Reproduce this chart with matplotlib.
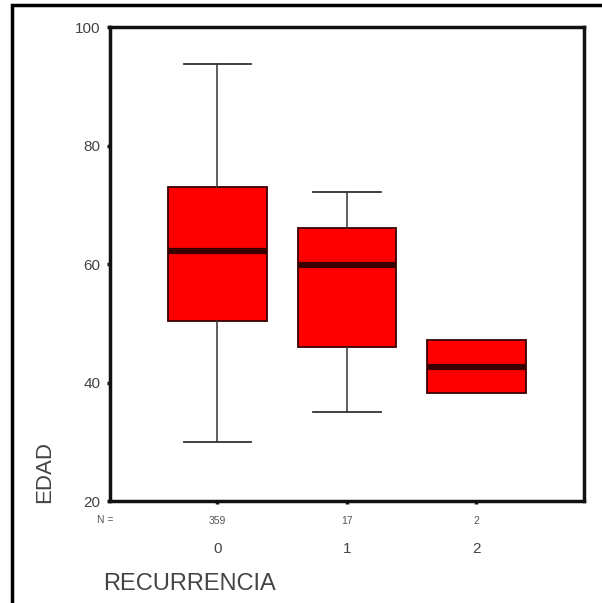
import matplotlib.pyplot as plt
from matplotlib.patches import Rectangle

plt.rcParams['font.family'] = ['Liberation Sans', 'DejaVu Sans']

# values
groups = ['0', '1', '2']
counts = ['359', '17', '2']
whislo = [30.0, 35.0, 38.2]
q1 = [50.4, 46.0, 38.2]
med = [62.2, 59.8, 42.6]
q3 = [73.0, 66.1, 47.2]
whishi = [93.8, 72.2, 47.2]

stats = []
for i, g in enumerate(groups):
    stats.append({'label': g, 'whislo': whislo[i], 'q1': q1[i], 'med': med[i],
                  'q3': q3[i], 'whishi': whishi[i], 'fliers': []})

fig = plt.figure(figsize=(6.02, 6.03), dpi=100)
ax = fig.add_axes([0.1827, 0.169, 0.7873, 0.786])

pos = list(range(len(groups)))
bp = ax.bxp(stats, positions=pos, widths=0.76, capwidths=0.52, patch_artist=True,
            showfliers=False,
            boxprops=dict(facecolor='#ff0000', edgecolor='#3a0000', linewidth=1.3),
            medianprops=dict(color='#3a0000', linewidth=4.5, solid_capstyle='butt'),
            whiskerprops=dict(color='#333333', linewidth=1.1),
            capprops=dict(color='#333333', linewidth=1.3))

# no whiskers where they coincide with the box
for i in range(len(groups)):
    if whislo[i] >= q1[i] and whishi[i] <= q3[i]:
        bp['caps'][2 * i].set_visible(False)
        bp['caps'][2 * i + 1].set_visible(False)
        bp['whiskers'][2 * i].set_visible(False)
        bp['whiskers'][2 * i + 1].set_visible(False)

ax.set_xlim(-0.83, 2.83)
ax.set_ylim(20, 100)
ax.set_yticks([20, 40, 60, 80, 100])
ax.set_xticks(pos)
ax.set_xticklabels(groups)

for s in ax.spines.values():
    s.set_linewidth(2.5)
    s.set_color('#111111')

ax.tick_params(axis='both', length=2, width=2.5, color='#111111',
               labelcolor='#444444', labelsize=11)
ax.tick_params(axis='y', pad=5)
ax.tick_params(axis='x', pad=27.5, labelsize=11)

# N counts under each box
fig.text(0.161, 1 - 520 / 603, 'N =', ha='left', va='center',
         fontsize=7.5, color='#555555')
for i, c in enumerate(counts):
    ax.text(pos[i], -0.041, c, transform=ax.get_xaxis_transform(),
            ha='center', va='center', fontsize=7.5, color='#555555')

fig.text(0.171, 0.0315, 'RECURRENCIA', ha='left', va='center',
         fontsize=17, color='#444444')
fig.text(0.0748, 0.217, 'EDAD', ha='center', va='center', rotation=90,
         fontsize=16, color='#444444')

# outer frame (only left and top edges fall inside the image)
fig.patches.append(Rectangle((0.02, -0.2), 1.2, 1.192, transform=fig.transFigure,
                             fill=False, edgecolor='black', linewidth=2.5,
                             clip_on=False))

fig.savefig('out.png', dpi=100)
